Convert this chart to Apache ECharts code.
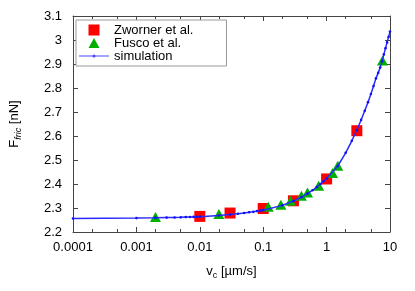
<!DOCTYPE html>
<html>
<head>
<meta charset="utf-8">
<script src="https://cdn.jsdelivr.net/npm/echarts@6/dist/echarts.min.js"></script>
<style>html,body{margin:0;padding:0;background:#fff}#c{width:415px;height:291px}</style>
</head>
<body>
<div id="c"></div>
<script>
// Zworner et al. (red squares)
var zwornerV = [0.01, 0.03, 0.1, 0.3, 1, 3];
var zwornerF = [2.265, 2.279, 2.298, 2.330, 2.421, 2.622];
// Fusco et al. (green triangles)
var fuscoV = [0.002, 0.02, 0.12, 0.19, 0.27, 0.4, 0.5, 0.75, 1.24, 1.5, 7.6];
var fuscoF = [2.262, 2.275, 2.305, 2.314, 2.330, 2.351, 2.365, 2.393, 2.446, 2.476, 2.915];
// simulation (blue line with dots)
var simV = [0.0001, 0.001, 0.002, 0.003, 0.004, 0.005, 0.006, 0.007, 0.008, 0.009,
            0.01, 0.02, 0.03, 0.04, 0.05, 0.06, 0.07, 0.08, 0.09,
            0.1, 0.2, 0.3, 0.4, 0.5, 0.6, 0.7, 0.8, 0.9,
            1, 1.5, 2, 2.5, 3, 3.5, 4, 4.5, 5, 5.5, 6, 6.5, 7, 7.5, 8, 8.5, 9, 9.5, 10];
var simF = [2.256, 2.258, 2.259, 2.260, 2.2605, 2.261, 2.262, 2.2625, 2.263, 2.2635,
            2.264, 2.269, 2.273, 2.276, 2.279, 2.282, 2.284, 2.287, 2.289,
            2.291, 2.311, 2.329, 2.345, 2.360, 2.374, 2.387, 2.400, 2.412,
            2.423, 2.475, 2.530, 2.580, 2.625, 2.667, 2.705, 2.741, 2.775, 2.808, 2.840, 2.863, 2.885, 2.911, 2.940, 2.966, 2.990, 3.013, 3.035];
// axis ticks
var xTicks = [0.0001, 0.001, 0.01, 0.1, 1, 10];
var xTickLabels = ['0.0001', '0.001', '0.01', '0.1', '1', '10'];
var xMinorTicks = [0.0002, 0.0005, 0.002, 0.005, 0.02, 0.05, 0.2, 0.5, 2, 5];
var yMin = 2.2, yMax = 3.1, yStep = 0.1;

function zip(a, b) { return a.map(function (v, i) { return [v, b[i]]; }); }

var FONT = '"Liberation Sans", Arial, sans-serif';
var AX = '#444';
var chart = echarts.init(document.getElementById('c'), null, {renderer: 'canvas'});

var xBase = {
  type: 'log', logBase: 10, min: 0.0001, max: 10, gridIndex: 0,
  splitLine: {show: false}, minorTick: {show: false}
};

// legend icons drawn in a 30x11 box (corner anchors keep the box from being stretched)
var BOX = 'M0,0 L0,0 Z M30,11 L30,11 Z ';
var iconSquare = 'path://' + BOX + 'M9.5,0 L20.5,0 L20.5,11 L9.5,11 Z';
var iconTriangle = 'path://' + BOX + 'M15,0.5 L20.5,10.5 L9.5,10.5 Z';
var iconSim = 'path://' + BOX + 'M0,5 L30,5 L30,6 L0,6 Z M16.6,5.5 A1.6,1.6 0 1 1 13.4,5.5 A1.6,1.6 0 1 1 16.6,5.5 Z';

chart.setOption({
  animation: false,
  backgroundColor: '#fff',
  grid: {left: 68, right: 25, top: 16, bottom: 59, containLabel: false},
  xAxis: [
    Object.assign({}, xBase, {
      position: 'bottom',
      name: '{a|v}{s|c}{a| [µm/s]}', nameLocation: 'middle', nameGap: 31,
      nameTextStyle: {rich: {a: {fontFamily: FONT, fontSize: 13, color: '#000'}, s: {fontFamily: FONT, fontSize: 9, color: '#000', padding: [8, 0, 0, 0]}}},
      axisLine: {show: true, lineStyle: {color: AX, width: 1}},
      axisTick: {show: true, inside: true, length: 5, lineStyle: {color: AX}, customValues: xTicks},
      axisLabel: {show: true, margin: 9, fontFamily: FONT, fontSize: 13, color: '#000', customValues: xTicks,
        formatter: function (v) { var i = xTicks.findIndex(function (t) { return Math.abs(Math.log10(t) - Math.log10(v)) < 1e-6; }); return i >= 0 ? xTickLabels[i] : ''; }}
    }),
    Object.assign({}, xBase, {
      position: 'top',
      axisLine: {show: true, lineStyle: {color: AX, width: 1}},
      axisTick: {show: true, inside: true, length: 5, lineStyle: {color: AX}, customValues: xTicks},
      axisLabel: {show: false}
    }),
    Object.assign({}, xBase, {
      position: 'bottom',
      axisLine: {show: false},
      axisTick: {show: true, inside: true, length: 3, lineStyle: {color: AX}, customValues: xMinorTicks},
      axisLabel: {show: false}
    }),
    Object.assign({}, xBase, {
      position: 'top',
      axisLine: {show: false},
      axisTick: {show: true, inside: true, length: 3, lineStyle: {color: AX}, customValues: xMinorTicks},
      axisLabel: {show: false}
    })
  ],
  yAxis: [
    {
      type: 'value', min: yMin, max: yMax, interval: yStep, position: 'left',
      name: '{a|F}{s|fric}{a| [nN]}', nameLocation: 'middle', nameGap: 50, nameRotate: 90,
      nameTextStyle: {rich: {a: {fontFamily: FONT, fontSize: 13, color: '#000'}, s: {fontFamily: FONT, fontSize: 9, fontStyle: 'italic', color: '#000', padding: [8, 0, 0, 0]}}},
      splitLine: {show: false},
      axisLine: {show: true, lineStyle: {color: AX, width: 1}},
      axisTick: {show: true, inside: true, length: 5, lineStyle: {color: AX}},
      axisLabel: {margin: 11, fontFamily: FONT, fontSize: 13, color: '#000',
        formatter: function (v) { return String(+v.toFixed(1)); }}
    },
    {
      type: 'value', min: yMin, max: yMax, interval: yStep, position: 'right',
      splitLine: {show: false},
      axisLine: {show: true, lineStyle: {color: AX, width: 1}},
      axisTick: {show: true, inside: true, length: 5, lineStyle: {color: AX}},
      axisLabel: {show: false}
    }
  ],
  legend: {
    left: 76, top: 20, orient: 'vertical', selectedMode: false, z: 5,
    padding: [3.5, 33, 3.5, 3],
    borderColor: '#999', borderWidth: 1, backgroundColor: '#fff',
    itemWidth: 30, itemHeight: 11, itemGap: 0, itemTextGap: 4,
    textStyle: {fontFamily: FONT, fontSize: 13, color: '#000', lineHeight: 13},
    data: [
      {name: 'Zworner et al.', icon: iconSquare},
      {name: 'Fusco et al.', icon: iconTriangle},
      {name: 'simulation', icon: iconSim, itemStyle: {color: '#4a4aff'}}
    ]
  },
  series: [
    {
      name: 'simulation', type: 'line', xAxisIndex: 0, yAxisIndex: 0, z: 3,
      data: zip(simV, simF),
      symbol: 'circle', symbolSize: 2.6, showSymbol: true,
      itemStyle: {color: '#1010ff'},
      lineStyle: {color: '#2a2aff', width: 1.5}
    },
    {
      name: 'Zworner et al.', type: 'scatter', xAxisIndex: 0, yAxisIndex: 0, z: 2,
      data: zip(zwornerV, zwornerF),
      symbol: 'rect', symbolSize: 11,
      itemStyle: {color: '#ff0000', opacity: 1}
    },
    {
      name: 'Fusco et al.', type: 'scatter', xAxisIndex: 0, yAxisIndex: 0, z: 2,
      data: zip(fuscoV, fuscoF),
      symbol: 'triangle', symbolSize: [11, 10],
      itemStyle: {color: '#00b000', opacity: 1}
    }
  ]
});
</script>
</body>
</html>
